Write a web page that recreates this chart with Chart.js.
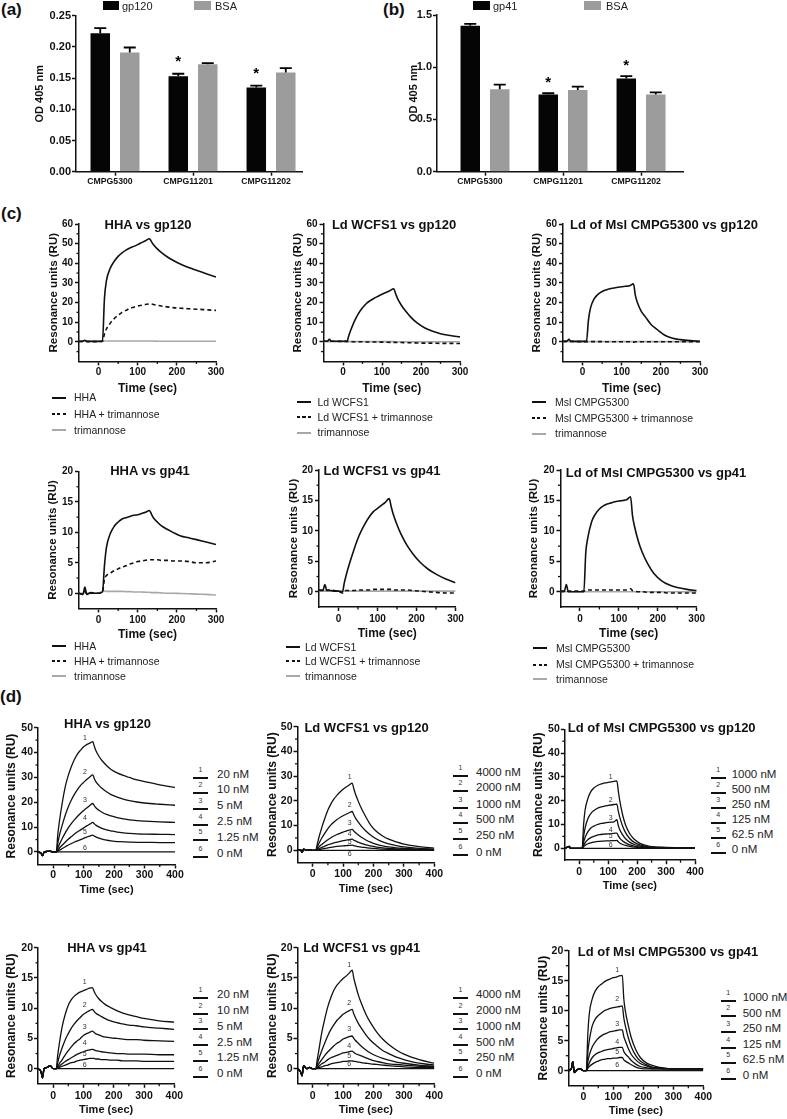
<!DOCTYPE html>
<html><head><meta charset="utf-8">
<script src="https://cdn.jsdelivr.net/npm/chart.js@4.4.1/dist/chart.umd.min.js"></script>
<style>
html,body{margin:0;padding:0;background:#fff;}
body{position:relative;width:787px;height:1119px;overflow:hidden;font-family:"Liberation Sans",Arial,Helvetica,sans-serif;}
canvas{position:absolute;}
.txt{position:absolute;white-space:nowrap;line-height:1;}
.smp{position:absolute;height:1.5px;}
.box{position:absolute;}
</style></head><body>
<script>
// ================= DATA =================
const barCategories = ['CMPG5300', 'CMPG11201', 'CMPG11202'];
const odTicksA = [0, 0.05, 0.10, 0.15, 0.20, 0.25];
const gp120Od = [0.222, 0.153, 0.135];
const gp120OdErr = [0.008, 0.004, 0.003];
const bsaOdA = [0.191, 0.172, 0.159];
const bsaOdAErr = [0.008, 0.002, 0.007];
const sigA = [false, true, true];
const odTicksB = [0, 0.5, 1.0, 1.5];
const gp41Od = [1.396, 0.738, 0.891];
const gp41OdErr = [0.019, 0.013, 0.023];
const bsaOdB = [0.789, 0.783, 0.738];
const bsaOdBErr = [0.044, 0.031, 0.022];
const sigB = [false, true, true];

const timeC = [-50,-40,-35,-30,-20,-10,0,10,15,20,30,40,50,60,70,80,90,100,110,120,130,135,140,150,160,175,190,210,230,250,275,300];
const timeD = [-50,-40,-35,-30,-20,-10,0,10,15,20,30,40,50,60,70,80,90,100,110,120,130,135,140,150,160,175,190,210,230,250,275,300,350,400];

// (c) specificity sensorgrams
const hhaGp120 = [0.2,0.3,0.8,0.2,0.2,0.2,0.2,0.3,22,31,37.5,41,43.5,45.3,46.7,47.8,48.6,49.5,50.5,51.5,52.5,51,49.5,47.3,45.5,43.3,41.5,39.5,37.8,36.4,34.7,33];
const hhaTriGp120 = [0.1,0.2,0.5,0.1,0.1,0.1,0.1,0.2,4,6.5,9.5,11.8,13.5,15,16,17,17.6,18.2,18.6,19,19.3,19.2,19,18.6,18.2,17.8,17.4,17.1,16.8,16.6,16.3,16];
const triGp120Hha = [0.3,0.3,0.4,0.3,0.3,0.3,0.3,0.4,0.4,0.4,0.4,0.4,0.4,0.4,0.4,0.4,0.4,0.4,0.4,0.4,0.4,0.4,0.4,0.3,0.3,0.3,0.3,0.3,0.3,0.3,0.3,0.3];
const ldGp120 = [0.3,0.3,1.2,0.3,0.3,0.3,0.3,0.2,3.2,6,10.8,14.5,17.3,19.5,21,22.2,23.2,24.2,25.1,26,27,24.5,22,18.5,15.8,12.3,9.6,7,5.3,4.1,3.2,2.5];
const ldTriGp120 = [0.3,0.3,0.4,0.3,0.3,0.2,0.2,0.2,0.1,0.1,0,0,0,-0.1,-0.1,-0.1,-0.2,-0.2,-0.2,-0.3,-0.3,-0.3,-0.4,-0.4,-0.5,-0.5,-0.6,-0.7,-0.7,-0.8,-0.8,-0.9];
const triGp120Ld = [0.1,0.1,0.1,0.1,0.1,0.1,0.1,0.1,0.1,0.1,0.1,0.1,0.1,0.1,0.1,0.1,0.1,0.1,0.1,0.1,0.1,0,0,0,0,0,0,0,0,0,0,0];
const mslGp120 = [0.2,0.3,1.2,0.2,0.2,0.2,0.2,0.2,11,17,22,24.3,25.6,26.4,27,27.4,27.8,28,28.3,28.5,29.5,23.5,20,15.5,12.8,8.8,6.3,3.3,1.8,1.1,0.6,0.3];
const mslTriGp120 = [0.2,0.2,0.3,0.2,0.1,0.1,0.1,0.1,0.1,0.1,0.1,0.1,0.1,0,0,0,0,0,0,0,-0.2,0,0,0,0,0,0,0,0,0,0,0];
const triGp120Msl = [0.1,0.1,0.1,0.1,0.1,0.1,0.1,0.1,0.1,0.1,0.1,0.1,0.1,0.1,0.1,0.1,0.1,0.1,0.1,0.1,0.1,0.1,0.1,0.1,0.1,0.1,0.1,0.1,0.1,0.1,0.1,0.1];
const hhaGp41 = [0,-0.2,1,-0.2,0.1,0,0,0.2,4.5,7.5,9.8,11,11.7,12.2,12.4,12.6,12.8,12.9,13.1,13.3,13.6,13,12.4,11.7,11.1,10.5,10,9.4,9.1,8.8,8.4,8];
const hhaTriGp41 = [0,-0.2,0.3,-0.1,0,0,0,0.2,2.3,2.9,3.3,3.7,4,4.3,4.5,4.8,5,5.2,5.3,5.4,5.5,5.5,5.5,5.5,5.4,5.4,5.3,5.3,5.2,5,5,5.3];
const triGp41Hha = [0,0,0.1,0,0,0,0,0.35,0.35,0.3,0.3,0.3,0.3,0.3,0.25,0.25,0.2,0.2,0.2,0.15,0.15,0.1,0.1,0.1,0.05,0,0,-0.05,-0.1,-0.15,-0.2,-0.3];
const ldGp41 = [0.2,0.2,1.2,0.2,0.2,0.1,0.1,0,1.5,2.8,5,7,8.8,10.2,11.4,12.4,13.2,13.7,14.2,14.7,15.3,14,12.8,11,9.5,7.7,6.3,4.8,3.7,2.9,2.1,1.5];
const ldTriGp41 = [0.3,0.3,0.4,0.3,0.3,0.2,0.1,-0.2,0.2,0.2,0.2,0.2,0.3,0.3,0.3,0.3,0.4,0.4,0.4,0.4,0.4,0.4,0.3,0.3,0.3,0.3,0.2,0.1,0,-0.1,-0.2,-0.2];
const triGp41Ld = [0.1,0.1,0.1,0.1,0.1,0.1,0.1,0.1,0.1,0.1,0.1,0.1,0.1,0.1,0.1,0.1,0.1,0.1,0.1,0.1,0.1,0.1,0.1,0.1,0.1,0.1,0.1,0.1,0.1,0.1,0.1,0.1];
const mslGp41 = [0,0.1,1.2,0,0,0,0,0,6.5,8.8,11.5,12.8,13.6,14.1,14.4,14.6,14.8,14.9,15,15.1,15.6,12.5,10.8,8.3,6.5,4.5,3,1.8,1.1,0.7,0.4,0.2];
const mslTriGp41 = [0.1,0.1,0.2,0.1,0.1,0.1,0.1,0.1,0.3,0.3,0.3,0.3,0.3,0.3,0.3,0.3,0.3,0.3,0.3,0.3,0.5,0.2,0.1,0,0,-0.1,-0.1,-0.1,-0.2,-0.2,-0.2,-0.2];
const triGp41Msl = [0,0,0,0,0,0,0,0,0,0,0,0,0,0,0,0,0,0,0,0,0,0,0,0,0,0,0,0,0,0,0,0];

// (d) concentration series
const hhaGp120Nm20 = [0,-0.5,-1.5,0,0.2,0.3,0,0,7,12,20,26.5,31,34.5,37.3,39.5,41,42.3,43.2,43.8,44.4,42.5,40.8,38.5,36.8,34.8,33.2,31.8,30.8,30,29,28.3,27,26];
const hhaGp120Nm10 = [0,-0.5,-1.5,0,0.2,0.3,0,0,3.5,6.5,11,15,18.3,21,23.3,25.2,26.8,28,29.2,30.2,31,29.5,28.3,26.8,25.6,24.2,23.1,22.1,21.3,20.7,20.1,19.7,19.2,18.8];
const hhaGp120Nm5 = [0,-0.5,-1.5,0,0.2,0.3,0,0,1.5,3,5.5,7.8,9.8,11.5,13,14.4,15.6,16.7,17.7,18.7,19.5,18.6,17.8,16.8,16,15.1,14.5,13.8,13.3,12.9,12.6,12.4,12.1,11.9];
const hhaGp120Nm2_5 = [0,-0.5,-1.5,0,0.2,0.3,0,0,0.7,1.5,2.8,4,5.2,6.2,7.2,8.1,8.9,9.7,10.5,11.2,11.9,11.3,10.8,10.1,9.5,8.9,8.5,8,7.7,7.5,7.3,7.2,7.1,7];
const hhaGp120Nm1_25 = [0,-0.5,-1.5,0,0.2,0.3,0,0,0.3,0.7,1.4,2.1,2.8,3.4,4,4.5,5,5.5,6,6.4,6.8,6.4,6.1,5.6,5.2,4.8,4.5,4.2,4.1,4,3.9,3.9,3.8,3.8];
const hhaGp120Nm0 = [0,-0.5,-1.5,0,0.2,0.3,0,0,0,0,0,0,0,0,0,0,0,0,0,0,0,0,0,0,0,0,0,0,0,0,0,0,0,0];

const ldGp120Nm4000 = [0,0.3,-0.8,0.5,0,0.2,0,0,2.5,5,9.3,13,16.3,18.8,20.8,22.3,23.6,24.7,25.6,26.4,27.2,25,23,19.8,17,13.5,10.3,7.6,5.8,4.5,3.4,2.5,1.5,0.9];
const ldGp120Nm2000 = [0,0.3,-0.8,0.5,0,0.2,0,0,1.3,2.7,5,7,8.8,10.3,11.5,12.5,13.3,14,14.6,15.2,15.7,14.4,13.2,11.4,9.8,7.8,6.2,4.6,3.4,2.6,1.9,1.4,0.8,0.5];
const ldGp120Nm1000 = [0,0.3,-0.8,0.5,0,0.2,0,0,0.6,1.3,2.4,3.4,4.3,5.1,5.8,6.4,6.9,7.4,7.8,8.2,8.5,7.8,7.2,6.2,5.3,4.2,3.3,2.4,1.8,1.4,1,0.8,0.5,0.3];
const ldGp120Nm500 = [0,0.3,-0.8,0.5,0,0.2,0,0,0.3,0.6,1.2,1.7,2.2,2.6,3,3.3,3.6,3.9,4.1,4.3,4.5,4.1,3.8,3.3,2.8,2.2,1.8,1.3,1,0.8,0.6,0.5,0.3,0.2];
const ldGp120Nm250 = [0,0.3,-0.8,0.5,0,0.2,0,0,0.1,0.3,0.5,0.8,1,1.2,1.4,1.6,1.7,1.8,1.9,2,2.1,1.9,1.8,1.5,1.3,1.1,0.9,0.7,0.5,0.4,0.3,0.2,0.2,0.1];
const ldGp120Nm0 = [0,0.3,-0.8,0.5,0,0.2,0,0,0,0,0,0,0,0,0,0,0,0,0,0,0,0,0,0,0,0,0,0,0,0,0,0,0,0];

const mslGp120Nm1000 = [0,0.5,0.8,0,0,0,0,0,10,16,21,23.8,25.3,26.2,26.8,27.2,27.5,27.7,27.9,28.1,28.3,24,20,14,9.8,6,3.8,2.1,1.2,0.7,0.5,0.4,0.3,0.3];
const mslGp120Nm500 = [0,0.5,0.8,0,0,0,0,0,5,8.5,12.5,14.6,15.8,16.6,17.2,17.5,17.8,18,18.2,18.4,18.6,15.5,13,9.3,6.6,4,2.5,1.4,0.8,0.5,0.4,0.3,0.3,0.3];
const mslGp120Nm250 = [0,0.5,0.8,0,0,0,0,0,2.5,4.5,7,8.5,9.3,9.9,10.3,10.5,10.7,10.9,11,11.1,12,9.5,7.8,5.6,4,2.5,1.6,0.9,0.5,0.4,0.3,0.3,0.3,0.3];
const mslGp120Nm125 = [0,0.5,0.8,0,0,0,0,0,1.2,2.3,3.7,4.5,5,5.4,5.7,5.9,6,6.1,6.2,6.3,6.4,5.2,4.3,3.1,2.3,1.4,0.9,0.5,0.3,0.3,0.3,0.3,0.3,0.3];
const mslGp120Nm62_5 = [0,0.5,0.8,0,0,0,0,0,0.6,1.2,1.9,2.3,2.6,2.8,2.9,3,3.1,3.1,3.2,3.2,3.3,2.7,2.2,1.6,1.2,0.8,0.5,0.3,0.3,0.3,0.3,0.3,0.3,0.3];
const mslGp120Nm0 = [0,0.5,0.8,0,0,0,0,0,0,0,0,0,0,0,0,0,0,0,0,0,0,0,0,0,0,0,0,0,0,0,0,0,0,0];

const hhaGp41Nm20 = [0,-0.5,-1.5,0,0.2,0.5,0,0,2.2,4,7,9,10.5,11.4,12,12.4,12.7,12.9,13.1,13.3,13.4,12.8,12.3,11.6,11.1,10.5,10.1,9.6,9.2,8.9,8.6,8.3,7.9,7.7];
const hhaGp41Nm10 = [0,-0.5,-1.5,0,0.2,0.5,0,0,1,2,3.5,4.8,5.8,6.7,7.4,8,8.5,9,9.3,9.6,9.8,9.5,9.2,8.9,8.6,8.2,7.9,7.6,7.4,7.2,7.1,6.9,6.7,6.5];
const hhaGp41Nm5 = [0,-0.5,-1.5,0,0.2,0.5,0,0,0.4,0.8,1.5,2.3,3,3.6,4.2,4.6,5,5.5,5.8,6,6.2,6,5.8,5.6,5.4,5.2,5.1,5,4.9,4.8,4.8,4.7,4.6,4.5];
const hhaGp41Nm2_5 = [0,-0.5,-1.5,0,0.2,0.5,0,0,0.2,0.4,0.8,1.2,1.5,1.8,2.1,2.4,2.6,2.8,3,3.1,3.2,3.1,3,2.9,2.8,2.7,2.6,2.5,2.5,2.4,2.4,2.4,2.3,2.3];
const hhaGp41Nm1_25 = [0,-0.5,-1.5,0,0.2,0.5,0,0,0.1,0.2,0.4,0.6,0.8,1,1.1,1.3,1.4,1.5,1.6,1.7,1.7,1.7,1.6,1.6,1.5,1.5,1.4,1.4,1.3,1.3,1.3,1.2,1.2,1.2];
const hhaGp41Nm0 = [0,-0.5,-1.5,0,0.2,0.5,0,0,0,0,0,0,0,0,0,0,0,0,0,0,0,0,0,0,0,0,0,0,0,0,0,0,0,0];

const ldGp41Nm4000 = [0,-0.5,-1.2,0.5,0,0.2,0,0,1.5,3,6,8.3,10.3,11.8,13,13.8,14.4,14.9,15.3,15.8,16.3,15,14,12.2,10.8,9,7.6,6.1,4.9,4,3.1,2.4,1.5,0.9];
const ldGp41Nm2000 = [0,-0.5,-1.2,0.5,0,0.2,0,0,0.8,1.6,3,4.3,5.5,6.5,7.3,8,8.5,9,9.3,9.6,9.8,9.1,8.5,7.5,6.7,5.6,4.7,3.8,3,2.5,1.9,1.5,0.9,0.6];
const ldGp41Nm1000 = [0,-0.5,-1.2,0.5,0,0.2,0,0,0.4,0.8,1.5,2.2,2.8,3.3,3.8,4.2,4.5,4.9,5.1,5.3,5.4,5,4.7,4.2,3.7,3.1,2.6,2.1,1.7,1.4,1.1,0.9,0.6,0.4];
const ldGp41Nm500 = [0,-0.5,-1.2,0.5,0,0.2,0,0,0.2,0.4,0.8,1.1,1.5,1.8,2,2.2,2.4,2.6,2.7,2.8,2.9,2.7,2.5,2.3,2.1,1.8,1.5,1.2,1,0.8,0.7,0.6,0.4,0.3];
const ldGp41Nm250 = [0,-0.5,-1.2,0.5,0,0.2,0,0,0.1,0.2,0.3,0.5,0.6,0.8,0.9,1,1.1,1.2,1.2,1.3,1.3,1.2,1.2,1.1,1,0.9,0.8,0.7,0.6,0.5,0.4,0.3,0.2,0.2];
const ldGp41Nm0 = [0,-0.5,-1.2,0.5,0,0.2,0,0,0,0,0,0,0,0,0,0,0,0,0,0,0,0,0,0,0,0,0,0,0,0,0,0,0,0];

const mslGp41Nm1000 = [0,0.3,1.5,-0.3,0.2,0.3,0,0,6,9.5,12,13.3,14,14.4,14.8,15.1,15.3,15.5,15.6,15.8,15.9,12,10,7.5,5.5,3.5,2.2,1.3,0.9,0.6,0.4,0.3,0.3,0.3];
const mslGp41Nm500 = [0,0.3,1.5,-0.3,0.2,0.3,0,0,3,5,7.5,8.6,9.2,9.6,10,10.2,10.4,10.5,10.6,10.7,10.8,8.8,7.5,5.5,4,2.5,1.6,1,0.6,0.5,0.4,0.3,0.3,0.3];
const mslGp41Nm250 = [0,0.3,1.5,-0.3,0.2,0.3,0,0,1.5,2.6,4,4.8,5.4,5.8,6.1,6.3,6.5,6.6,6.7,6.8,6.8,5.7,5,3.7,2.7,1.8,1.2,0.8,0.5,0.4,0.3,0.3,0.3,0.3];
const mslGp41Nm125 = [0,0.3,1.5,-0.3,0.2,0.3,0,0,0.7,1.3,2.2,2.7,3,3.2,3.4,3.5,3.6,3.7,3.8,3.9,3.9,3.2,2.8,2.3,1.7,1.1,0.7,0.5,0.3,0.3,0.3,0.3,0.3,0.3];
const mslGp41Nm62_5 = [0,0.3,1.5,-0.3,0.2,0.3,0,0,0.4,0.7,1.1,1.4,1.6,1.8,1.9,2,2,2.1,2.1,2.2,2.2,1.8,1.6,1.3,1,0.6,0.4,0.3,0.3,0.3,0.3,0.3,0.3,0.3];
const mslGp41Nm0 = [0,0.3,1.5,-0.3,0.2,0.3,0,0,0,0,0,0,0,0,0,0,0,0,0,0,0,0,0,0,0,0,0,0,0,0,0,0,0,0];

const hhaConc = ['20 nM', '10 nM', '5 nM', '2.5 nM', '1.25 nM', '0 nM'];
const ldConc = ['4000 nM', '2000 nM', '1000 nM', '500 nM', '250 nM', '0 nM'];
const mslConc = ['1000 nM', '500 nM', '250 nM', '125 nM', '62.5 nM', '0 nM'];
const curveNumbers = ['1', '2', '3', '4', '5', '6'];

const ruTicks60 = [0, 10, 20, 30, 40, 50, 60];
const ruTicks50 = [0, 10, 20, 30, 40, 50];
const ruTicks20 = [0, 5, 10, 15, 20];
const timeTicks300 = [0, 100, 200, 300];
const timeTicks400 = [0, 100, 200, 300, 400];

const titlesC = ['HHA vs gp120', 'Ld WCFS1 vs gp120', 'Ld of Msl CMPG5300 vs gp120', 'HHA vs gp41', 'Ld WCFS1 vs gp41', 'Ld of Msl CMPG5300 vs gp41'];
const legendHha = ['HHA', 'HHA + trimannose', 'trimannose'];
const legendLd = ['Ld WCFS1', 'Ld WCFS1 + trimannose', 'trimannose'];
const legendMsl = ['Msl CMPG5300', 'Msl CMPG5300 + trimannose', 'trimannose'];

// ================= RENDERING =================
const FONT = '"Liberation Sans", Arial, Helvetica, sans-serif';
Chart.defaults.font.family = FONT;
Chart.defaults.color = '#111';

function addText(str, x, y, o) {
  const d = document.createElement('div');
  d.className = 'txt'; d.textContent = str;
  d.style.left = x + 'px'; d.style.top = y + 'px';
  d.style.font = (o.bold ? 'bold ' : '') + o.size + 'px ' + FONT;
  d.style.color = o.color || '#111';
  d.style.transform = o.center ? 'translate(-50%,-50%)' : 'translateY(-50%)';
  document.body.appendChild(d);
}
function addSample(x1, x2, y, kind) {
  const d = document.createElement('div'); d.className = 'smp';
  d.style.left = Math.round(x1) + 'px'; d.style.top = Math.round(y - 0.75) + 'px'; d.style.width = Math.round(x2 - x1) + 'px';
  d.style.height = '1.5px';
  d.style.background = kind === 'dashed' ? 'repeating-linear-gradient(to right,#111 0 3px,transparent 3px 5.5px)' : (kind === 'gray' ? '#a8a8a8' : '#111');
  document.body.appendChild(d);
}
function addBox(x, y, w, h, color) {
  const d = document.createElement('div'); d.className = 'box';
  d.style.left = x + 'px'; d.style.top = y + 'px'; d.style.width = w + 'px'; d.style.height = h + 'px';
  d.style.background = color; document.body.appendChild(d);
}

function frame(g) {
  const lhY = g.yTitleSize * 1.2;
  const cl = Math.floor(g.yTitleX - lhY / 2 - 2);
  const ct = Math.floor(g.t - 10);
  const W = Math.ceil(g.r - cl + 16);
  const bottomEdge = g.xTitleY != null ? g.xTitleY + g.xTitleSize * 0.6 + 3 : g.xLabelY + 9;
  const H = Math.ceil(bottomEdge - ct);
  const cv = document.createElement('canvas');
  cv.width = W; cv.height = H;
  cv.style.left = cl + 'px'; cv.style.top = ct + 'px';
  cv.style.width = W + 'px'; cv.style.height = H + 'px';
  document.body.appendChild(cv);
  return {
    cv,
    wy: g.l - cl,
    padTop: g.t - ct,
    padRight: W - (g.r - cl),
    hx: H - (g.b - ct),
    yTitlePad: g.yTitleX - lhY / 2 - cl,
    xTitlePad: g.xTitleY != null ? (ct + H) - g.xTitleY - g.xTitleSize * 0.6 : 0,
    xTickPad: Math.max(0, g.xLabelY - g.b - g.tickLen - g.xTickSize * 0.6)
  };
}

function axis(o) {
  return {
    type: 'linear', position: o.pos, min: o.min, max: o.max, offset: false,
    afterBuildTicks: s => { s.ticks = o.ticks.map(v => ({value: v})); },
    afterFit: s => {
      if (o.pos === 'left') { s.width = o.size; s.paddingTop = 0; s.paddingBottom = 0; }
      else { s.height = o.size; s.paddingLeft = 0; s.paddingRight = 0; }
    },
    border: {display: true, color: '#111', width: 1.5},
    grid: {display: true, offset: false, drawOnChartArea: false, drawTicks: true, tickLength: o.tickLen, tickWidth: 1.5, tickColor: '#111'},
    ticks: {autoSkip: false, maxRotation: 0, minRotation: 0, padding: o.pad, labelOffset: o.labelOffset || 0, color: '#111', font: {size: o.font, weight: 'bold'}, callback: o.fmt},
    title: o.title ? {display: true, text: o.title, color: '#111', font: {size: o.titleSize, weight: 'bold'}, padding: o.titlePad} : {display: false}
  };
}

function minorPlugin(xs, ys, len) {
  return {
    id: 'minorTicks',
    afterDraw(chart) {
      const {ctx, chartArea, scales} = chart;
      ctx.save(); ctx.strokeStyle = '#111'; ctx.lineWidth = 1.3;
      (xs || []).forEach(v => { const p = scales.x.getPixelForValue(v); ctx.beginPath(); ctx.moveTo(p, chartArea.bottom); ctx.lineTo(p, chartArea.bottom + len); ctx.stroke(); });
      (ys || []).forEach(v => { const p = scales.y.getPixelForValue(v); ctx.beginPath(); ctx.moveTo(chartArea.left, p); ctx.lineTo(chartArea.left - len, p); ctx.stroke(); });
      ctx.restore();
    }
  };
}

function barPanel(g, valsA, errA, valsB, errB, sig, yTicks, fmt, colors) {
  const f = frame(g);
  const errorPlugin = {
    id: 'errorBars',
    afterDatasetsDraw(chart) {
      const {ctx} = chart; const ys = chart.scales.y;
      const errs = [errA, errB];
      ctx.save(); ctx.strokeStyle = '#000'; ctx.lineWidth = 1.8;
      chart.data.datasets.forEach((ds, di) => {
        chart.getDatasetMeta(di).data.forEach((bar, i) => {
          const top = ys.getPixelForValue(ds.data[i].y + errs[di][i]);
          ctx.beginPath(); ctx.moveTo(bar.x, bar.y); ctx.lineTo(bar.x, top);
          ctx.moveTo(bar.x - 6, top); ctx.lineTo(bar.x + 6, top); ctx.stroke();
          if (di === 0 && sig[i]) {
            ctx.fillStyle = '#000'; ctx.font = 'bold 15px ' + FONT; ctx.textAlign = 'center'; ctx.textBaseline = 'middle';
            ctx.fillText('*', bar.x, top - g.sigGap);
          }
        });
      });
      ctx.restore();
    }
  };
  new Chart(f.cv, {
    type: 'bar',
    data: {datasets: [
      {data: barCategories.map((c, i) => ({x: i + 1, y: valsA[i]})), backgroundColor: colors[0], categoryPercentage: 0.756, barPercentage: 0.661},
      {data: barCategories.map((c, i) => ({x: i + 1, y: valsB[i]})), backgroundColor: colors[1], categoryPercentage: 0.756, barPercentage: 0.661}
    ]},
    options: {
      responsive: false, animation: false, events: [],
      layout: {padding: {left: 0, top: f.padTop, right: f.padRight, bottom: 0}},
      plugins: {legend: {display: false}, tooltip: {enabled: false}},
      scales: {
        x: axis({pos: 'bottom', min: g.xMin, max: g.xMax, ticks: [1, 2, 3], size: f.hx, tickLen: g.tickLen, pad: f.xTickPad, font: g.xTickSize, labelOffset: -5, fmt: v => barCategories[Math.round(v) - 1] || ''}),
        y: axis({pos: 'left', min: g.yMin, max: g.yMax, ticks: yTicks, size: f.wy, tickLen: g.tickLen, pad: g.yTickPad, font: g.tickSize, fmt: fmt, title: 'OD 405 nm', titleSize: g.yTitleSize, titlePad: {top: f.yTitlePad, bottom: 0}})
      }
    },
    plugins: [errorPlugin]
  });
}

function linePanel(g, times, series, styles, labels) {
  const f = frame(g);
  const datasets = series.map((s, i) => ({
    data: times.map((t, k) => ({x: t, y: s[k]})),
    borderColor: styles[i].color, borderWidth: styles[i].width, borderDash: styles[i].dash || [],
    pointRadius: 0, fill: false, cubicInterpolationMode: 'monotone'
  }));
  const plugins = [minorPlugin(g.xMinor, g.yMinor, 2.5)];
  if (labels) {
    plugins.push({
      id: 'curveLabels',
      afterDatasetsDraw(chart) {
        const {ctx} = chart; const xs = chart.scales.x, ys = chart.scales.y;
        ctx.save(); ctx.fillStyle = '#333'; ctx.font = '7px ' + FONT; ctx.textAlign = 'center'; ctx.textBaseline = 'middle';
        labels.ys.forEach((v, i) => ctx.fillText(curveNumbers[i], xs.getPixelForValue(labels.t), ys.getPixelForValue(v)));
        ctx.restore();
      }
    });
  }
  new Chart(f.cv, {
    type: 'line',
    data: {datasets},
    options: {
      responsive: false, animation: false, events: [],
      layout: {padding: {left: 0, top: f.padTop, right: f.padRight, bottom: 0}},
      plugins: {legend: {display: false}, tooltip: {enabled: false}},
      scales: {
        x: axis({pos: 'bottom', min: g.xMin, max: g.xMax, ticks: g.xTicks, size: f.hx, tickLen: g.tickLen, pad: f.xTickPad, font: g.xTickSize, fmt: v => String(v), title: 'Time (sec)', titleSize: g.xTitleSize, titlePad: {top: 0, bottom: f.xTitlePad}}),
        y: axis({pos: 'left', min: g.yMin, max: g.yMax, ticks: g.yTicks, size: f.wy, tickLen: g.tickLen, pad: g.yTickPad, font: g.tickSize, fmt: v => String(v), title: 'Resonance units (RU)', titleSize: g.yTitleSize, titlePad: {top: f.yTitlePad, bottom: 0}})
      }
    },
    plugins
  });
}

// ---- panel labels ----
addText('(a)', 1, 10, {size: 17, bold: true});
addText('(b)', 383, 10, {size: 17, bold: true});
addText('(c)', 1, 213.5, {size: 17, bold: true});
addText('(d)', 0, 697, {size: 17, bold: true});

// ---- (a) ----
const barCommon = {yMin: 0, tickLen: 4, yTickPad: 1, tickSize: 11, xTickSize: 8.7, yTitleSize: 11, xLabelY: 181.7};
barPanel(Object.assign({l: 76, r: 302, t: 15.7, b: 171.7, xMin: 0.5, xMax: 3.397, yMax: 0.25, yTitleX: 40, sigGap: 12}, barCommon),
  gp120Od, gp120OdErr, bsaOdA, bsaOdAErr, sigA, odTicksA, v => v.toFixed(2), ['#050505', '#9c9c9c']);
addBox(103, 1, 16, 9, '#050505'); addText('gp120', 122, 6, {size: 11, color: '#222'});
addBox(194, 1, 17, 9, '#9c9c9c'); addText('BSA', 215, 6, {size: 11, color: '#222'});

// ---- (b) ----
barPanel(Object.assign({l: 437, r: 683, t: 15, b: 171.7, xMin: 0.3846, xMax: 3.538, yMax: 1.5, yTitleX: 414, sigGap: 10}, barCommon),
  gp41Od, gp41OdErr, bsaOdB, bsaOdBErr, sigB, odTicksB, v => v.toFixed(1), ['#050505', '#9c9c9c']);
addBox(473, 1, 17, 9, '#050505'); addText('gp41', 493, 6, {size: 11, color: '#222'});
addBox(584, 1, 17, 9, '#9c9c9c'); addText('BSA', 606, 6, {size: 11, color: '#222'});

// ---- (c) ----
const stC = [{color: '#111', width: 1.6}, {color: '#111', width: 1.6, dash: [4, 3]}, {color: '#a8a8a8', width: 1.6}];
const cTop = {yMin: -10, yMax: 60, yTicks: ruTicks60, yMinor: [-5, 5, 15, 25, 35, 45, 55], xMin: -50, xMax: 300, xTicks: timeTicks300, xMinor: [50, 150, 250],
  t: 224, b: 361.4, tickLen: 4, yTickPad: 2, tickSize: 10, xTickSize: 10, yTitleSize: 11.5, xTitleSize: 12, xLabelY: 372, xTitleY: 388.3};
const cBot = {yMin: -2.5, yMax: 20, yTicks: ruTicks20, yMinor: [2.5, 7.5, 12.5, 17.5], xMin: -50, xMax: 300, xTicks: timeTicks300, xMinor: [50, 150, 250],
  tickLen: 4, yTickPad: 2, tickSize: 10, xTickSize: 10, yTitleSize: 11.5, xTitleSize: 12};

linePanel(Object.assign({}, cTop, {l: 79, r: 216, yTitleX: 53.5}), timeC, [hhaGp120, hhaTriGp120, triGp120Hha], stC);
linePanel(Object.assign({}, cTop, {l: 323.5, r: 460, yTitleX: 297.5}), timeC, [ldGp120, ldTriGp120, triGp120Ld], stC);
linePanel(Object.assign({}, cTop, {l: 563, r: 700, yTitleX: 537}), timeC, [mslGp120, mslTriGp120, triGp120Msl], stC);
linePanel(Object.assign({}, cBot, {l: 79, r: 216, t: 471.5, b: 608.4, yTitleX: 53, xLabelY: 620.7, xTitleY: 635}), timeC, [hhaGp41, hhaTriGp41, triGp41Hha], stC);
linePanel(Object.assign({}, cBot, {l: 319, r: 455.5, t: 470, b: 607, yTitleX: 294, xLabelY: 619.5, xTitleY: 634}), timeC, [ldGp41, ldTriGp41, triGp41Ld], stC);
linePanel(Object.assign({}, cBot, {l: 560.5, r: 696.7, t: 470, b: 607, yTitleX: 534, xLabelY: 619.5, xTitleY: 634}), timeC, [mslGp41, mslTriGp41, triGp41Msl], stC);

[[148, 224], [394, 224], [664, 224], [150, 470], [382, 470], [656, 471.7]].forEach((p, i) => addText(titlesC[i], p[0], p[1], {size: 13, bold: true, center: true}));

function legendC(x1, xText, ys, labels) {
  const kinds = ['solid', 'dashed', 'gray'];
  labels.forEach((lab, i) => { addSample(x1, x1 + 14, ys[i], kinds[i]); addText(lab, xText, ys[i], {size: 10.5, color: '#222'}); });
}
legendC(52, 74, [397.3, 414, 429.5], legendHha);
legendC(297, 317.5, [401.7, 416.7, 432.3], legendLd);
legendC(532, 555, [401.7, 417.7, 433.3], legendMsl);
legendC(52, 74, [646, 661, 675.7], legendHha);
legendC(286, 305, [646.7, 661, 675.7], legendLd);
legendC(533, 556, [647.7, 664.3, 679], legendMsl);

// ---- (d) ----
const stD = [0, 1, 2, 3, 4, 5].map(() => ({color: '#111', width: 1.3}));
const dTop = {yMin: -5, yMax: 50, yTicks: ruTicks50, yMinor: [5, 15, 25, 35, 45], xMin: -50, xMax: 400, xTicks: timeTicks400, xMinor: [50, 150, 250, 350],
  tickLen: 4, yTickPad: 1, tickSize: 10.5, xTickSize: 10.5, yTitleSize: 12, xTitleSize: 11};
const dBot = {yMin: -2.5, yMax: 20, yTicks: ruTicks20, yMinor: [2.5, 7.5, 12.5, 17.5], xMin: -50, xMax: 400, xTicks: timeTicks400, xMinor: [50, 150, 250, 350],
  tickLen: 4, yTickPad: 1, tickSize: 10.5, xTickSize: 10.5, yTitleSize: 12, xTitleSize: 11};

linePanel(Object.assign({}, dTop, {l: 38, r: 175, t: 727.7, b: 864.4, yTitleX: 12, xLabelY: 875, xTitleY: 890}), timeD,
  [hhaGp120Nm20, hhaGp120Nm10, hhaGp120Nm5, hhaGp120Nm2_5, hhaGp120Nm1_25, hhaGp120Nm0], stD, {t: 104, ys: [46, 32, 21, 13.7, 8.2, 1.6]});
linePanel(Object.assign({}, dTop, {l: 297.5, r: 434.3, t: 726.7, b: 862.7, yTitleX: 272.5, xLabelY: 874, xTitleY: 889}), timeD,
  [ldGp120Nm4000, ldGp120Nm2000, ldGp120Nm1000, ldGp120Nm500, ldGp120Nm250, ldGp120Nm0], stD, {t: 122, ys: [29.7, 18.3, 11, 6.6, 3.4, -1.5]});
linePanel(Object.assign({}, dTop, {l: 564.8, r: 695, t: 729.3, b: 860.2, yTitleX: 539, xLabelY: 871.7, xTitleY: 885.5}), timeD,
  [mslGp120Nm1000, mslGp120Nm500, mslGp120Nm250, mslGp120Nm125, mslGp120Nm62_5, mslGp120Nm0], stD, {t: 109, ys: [30.1, 20.4, 12.8, 7.6, 5.1, 1.4]});
linePanel(Object.assign({}, dBot, {l: 38, r: 174.3, t: 947.7, b: 1083.8, yTitleX: 12, xLabelY: 1095.7, xTitleY: 1110}), timeD,
  [hhaGp41Nm20, hhaGp41Nm10, hhaGp41Nm5, hhaGp41Nm2_5, hhaGp41Nm1_25, hhaGp41Nm0], stD, {t: 104, ys: [14.4, 10.5, 6.8, 4.3, 2.4, 0.6]});
linePanel(Object.assign({}, dBot, {l: 297.5, r: 434.3, t: 947.7, b: 1083.8, yTitleX: 272.5, xLabelY: 1095.7, xTitleY: 1110}), timeD,
  [ldGp41Nm4000, ldGp41Nm2000, ldGp41Nm1000, ldGp41Nm500, ldGp41Nm250, ldGp41Nm0], stD, {t: 120, ys: [17.2, 10.8, 6.5, 3.7, 2.1, 0.7]});
linePanel(Object.assign({}, dBot, {l: 568.3, r: 703.3, t: 950.7, b: 1085.7, yTitleX: 544, xLabelY: 1097.3, xTitleY: 1111}), timeD,
  [mslGp41Nm1000, mslGp41Nm500, mslGp41Nm250, mslGp41Nm125, mslGp41Nm62_5, mslGp41Nm0], stD, {t: 113, ys: [16.7, 11.9, 7.8, 4.8, 3.1, 0.95]});

[[107.5, 723.3], [366.5, 726.7], [661.7, 727.3], [107, 947.3], [361.7, 947], [668, 950.7]].forEach((p, i) => addText(titlesC[i], p[0], p[1], {size: 13, bold: true, center: true}));

function legendD(x1, xText, ys, labels) {
  labels.forEach((lab, i) => {
    addSample(x1, x1 + 15, ys[i] + 3.3, 'solid');
    addText(curveNumbers[i], x1 + 7.5, ys[i] - 5.5, {size: 7, center: true, color: '#333'});
    addText(lab, xText, ys[i], {size: 11.5, color: '#222'});
  });
}
legendD(193, 217, [774, 789.3, 805.3, 821, 836.7, 853.3], hhaConc);
legendD(453, 476, [772, 787.3, 804, 819.3, 835.3, 851.7], ldConc);
legendD(710.7, 731.7, [774, 789.3, 804.3, 819.3, 834.3, 849.3], mslConc);
legendD(193, 217, [994.3, 1010, 1025.7, 1041.7, 1057.3, 1073.3], hhaConc);
legendD(453, 476, [994.3, 1010, 1025.7, 1041.7, 1056.7, 1073.3], ldConc);
legendD(720.7, 742.7, [997.3, 1012.7, 1028.3, 1044, 1059.3, 1075], mslConc);
</script>
</body></html>
